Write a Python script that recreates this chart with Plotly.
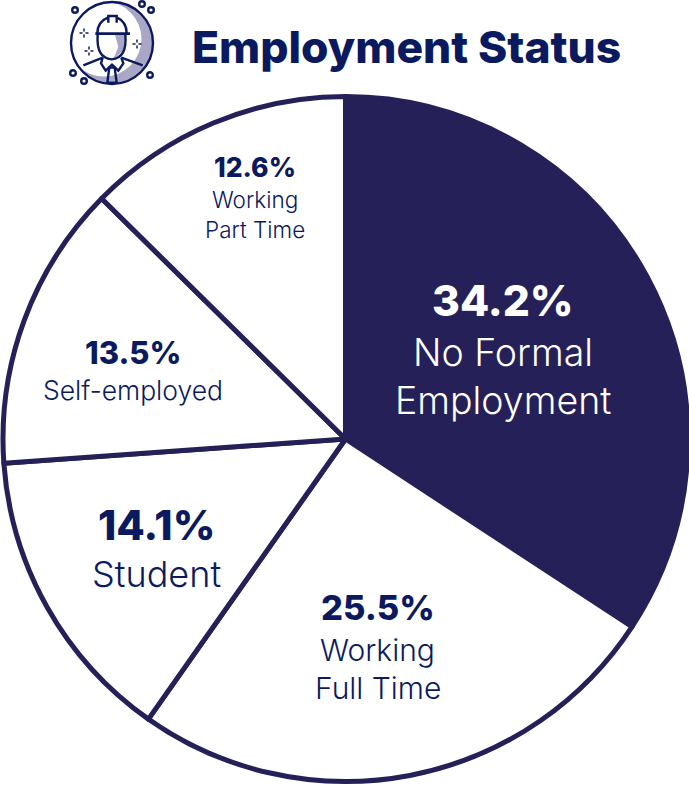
import plotly.graph_objects as go

W, H = 689, 786
NAVY = "#252057"
INK = "#0b1a5e"
LAV = "#a9a6c6"

categories = ["No Formal Employment", "Working Full Time", "Student", "Self-employed", "Working Part Time"]
values = [34.2, 25.5, 14.1, 13.5, 12.6]
fills = [NAVY, "#ffffff", "#ffffff", "#ffffff", "#ffffff"]
label_lines = [["No Formal", "Employment"], ["Working", "Full Time"], ["Student"], ["Self-employed"], ["Working", "Part Time"]]
value_labels = ["34.2%", "25.5%", "14.1%", "13.5%", "12.6%"]
label_x = [503, 378, 156, 133, 255]
value_y = [300, 607, 525, 352, 167]
line_y = [[352, 400], [650, 688], [574], [390], [199, 229]]
value_size = [42.5, 34.5, 41.5, 31, 26.5]
line_size = [37.5, 30, 36, 26.5, 22.5]
text_color = ["#ffffff", INK, INK, INK, INK]
TITLE = "Employment Status"


def px(x):
    return x / W


def py(y):
    return 1 - y / H


def path(cmds):
    out = []
    for c in cmds:
        if isinstance(c, str):
            out.append(c)
        else:
            out.append(f"{px(c[0]):.5f},{py(c[1]):.5f}")
    return " ".join(out)


def poly(points, close=False, **kw):
    cmds = []
    for i, p in enumerate(points):
        cmds += ["M" if i == 0 else "L", p]
    if close:
        cmds.append("Z")
    d = dict(type="path", xref="paper", yref="paper", path=path(cmds), layer="above")
    d.update(kw)
    return d


def curve(start, segs, close=False, **kw):
    cmds = ["M", start]
    for s in segs:
        cmds += ["Q", s[0], s[1]]
    if close:
        cmds.append("Z")
    d = dict(type="path", xref="paper", yref="paper", path=path(cmds), layer="above")
    d.update(kw)
    return d


def circle(cx, cy, r, fill="rgba(0,0,0,0)", color=INK, width=2.4):
    return dict(type="circle", xref="paper", yref="paper", layer="above",
                x0=px(cx - r), x1=px(cx + r), y0=py(cy + r), y1=py(cy - r),
                fillcolor=fill, line=dict(color=color, width=width))


def zz(x, y):
    return (50 + x / 3, y / 3)


line = dict(color=INK, width=2.4)
none = dict(width=0)
shapes = [
    circle(112.5, 43, 41, fill=LAV, color=LAV, width=0),
    circle(104, 39, 37.5, fill="#ffffff", color="#ffffff", width=0),
    poly([zz(195, 105), zz(225, 105), zz(222, 150), zz(190, 178), zz(205, 140)], close=True, fillcolor=LAV, line=none),
    circle(112, 43, 41),
    curve(zz(142, 100), [(zz(142, 65), zz(175, 52))], line=line),
    curve(zz(230, 100), [(zz(230, 65), zz(200, 52))], line=line),
    poly([zz(175, 68), zz(175, 48), zz(200, 48), zz(200, 68)], line=line),
    poly([zz(136, 101), zz(240, 101)], line=dict(color=INK, width=2.8)),
    curve(zz(143, 104), [(zz(138, 175), zz(185, 178)), (zz(232, 175), zz(226, 104))], line=line),
    poly([zz(100, 196), zz(158, 173)], line=line),
    poly([zz(214, 173), zz(278, 196)], line=line),
    poly([zz(158, 173), zz(153, 190), zz(167, 212), zz(186, 194), zz(205, 212), zz(220, 190), zz(214, 173)], line=line),
    poly([zz(178, 203), zz(194, 203), zz(200, 248), zz(172, 248)], close=True, line=line),
]
for c in [(75, 10), (142, 4), (151, 10), (73, 73), (84, 81), (150, 75)]:
    shapes.append(circle(c[0], c[1], 2.8))
for c in [(84, 33), (89, 51), (137, 44)]:
    thin = dict(color=INK, width=1.5)
    shapes.append(poly([(c[0] - 4.5, c[1]), (c[0] - 1.5, c[1])], line=thin))
    shapes.append(poly([(c[0] + 1.5, c[1]), (c[0] + 4.5, c[1])], line=thin))
    shapes.append(poly([(c[0], c[1] - 4.5), (c[0], c[1] - 1.5)], line=thin))
    shapes.append(poly([(c[0], c[1] + 1.5), (c[0], c[1] + 4.5)], line=thin))

FONT = "Inter"
annotations = [dict(text=TITLE, x=px(406), y=py(47), xref="paper", yref="paper", showarrow=False,
                    xanchor="center", yanchor="middle",
                    font=dict(family=FONT, size=44.4, color=INK, weight=800))]
for i in range(len(values)):
    annotations.append(dict(text=value_labels[i], x=px(label_x[i]), y=py(value_y[i]), xref="paper", yref="paper",
                            showarrow=False, xanchor="center", yanchor="middle",
                            font=dict(family=FONT, size=value_size[i], color=text_color[i], weight=800)))
    for t, yy in zip(label_lines[i], line_y[i]):
        annotations.append(dict(text=t, x=px(label_x[i]), y=py(yy), xref="paper", yref="paper",
                                showarrow=False, xanchor="center", yanchor="middle",
                                font=dict(family=FONT, size=line_size[i], color=text_color[i], weight=300)))

fig = go.Figure(go.Pie(
    labels=categories, values=values, sort=False, direction="clockwise", rotation=0,
    marker=dict(colors=fills, line=dict(color=NAVY, width=5)),
    textinfo="none", hoverinfo="label+percent", showlegend=False,
    domain=dict(x=[px(3), px(688)], y=[py(782), py(96)]),
))
fig.update_layout(width=W, height=H, margin=dict(l=0, r=0, t=0, b=0),
                  paper_bgcolor="#ffffff", shapes=shapes, annotations=annotations)
fig.write_html("out.html", config=dict(displayModeBar=False), post_script="document.body.style.margin='0';")
